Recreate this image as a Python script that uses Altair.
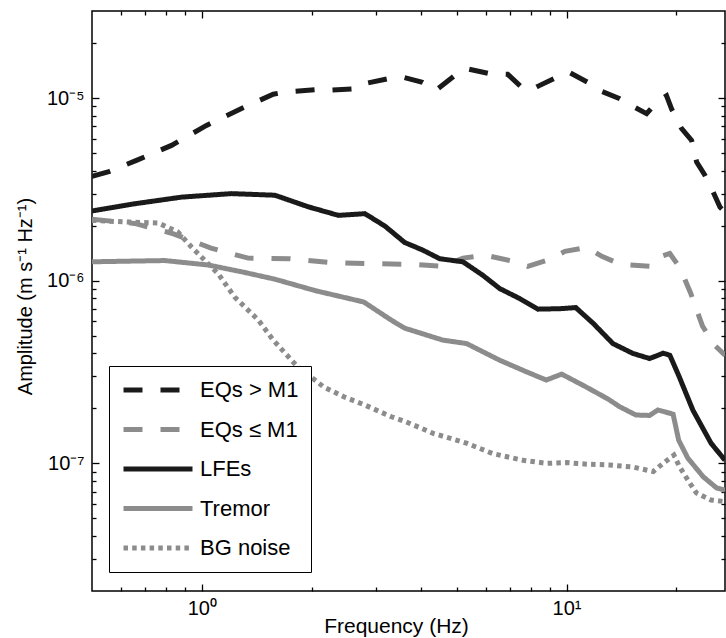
import altair as alt
import pandas as pd

FONT = "Liberation Sans"

series_names = ["EQs > M1", "EQs ≤ M1", "LFEs", "Tremor", "BG noise"]
series_colors = ["#1a1a1a", "#8c8c8c", "#1a1a1a", "#8c8c8c", "#8c8c8c"]

eq_big_freq = [0.5, 0.553, 0.662, 0.826, 1.03, 1.285, 1.57, 1.69, 2.04, 2.17, 2.62, 2.79, 3.32, 3.57,
               4.03, 4.40, 4.94, 5.32, 6.16, 6.90, 7.52, 8.02, 8.34, 9.39, 10.2, 11.44, 12.47, 14.0,
               15.07, 16.58, 17.66, 18.81, 19.4, 20.69, 22.03, 22.74, 23.96, 25.24, 26.35, 27.2]
eq_big_amp = [3.73e-6, 3.94e-6, 4.56e-6, 5.51e-6, 7.09e-6, 8.78e-6, 1.05e-5, 1.08e-5, 1.11e-5, 1.10e-5,
              1.125e-5, 1.20e-5, 1.29e-5, 1.30e-5, 1.22e-5, 1.11e-5, 1.33e-5, 1.45e-5, 1.36e-5, 1.35e-5,
              1.15e-5, 1.11e-5, 1.16e-5, 1.30e-5, 1.38e-5, 1.22e-5, 1.09e-5, 9.92e-6, 9.12e-6, 8.22e-6,
              9.50e-6, 1.03e-5, 8.75e-6, 6.80e-6, 5.87e-6, 4.47e-6, 3.78e-6, 3.06e-6, 2.53e-6, 2.37e-6]

eq_small_freq = [0.5, 0.654, 0.826, 1.06, 1.34, 1.74, 2.24, 2.89, 3.77, 4.58, 5.20, 6.00, 7.36, 7.83,
                 8.99, 9.9, 11.4, 12.5, 14.1, 16.9, 17.8, 19.2, 20.5, 21.9, 23.6, 25.5, 27.2]
eq_small_amp = [2.17e-6, 2.06e-6, 1.82e-6, 1.51e-6, 1.33e-6, 1.32e-6, 1.26e-6, 1.24e-6, 1.23e-6, 1.20e-6,
                1.33e-6, 1.38e-6, 1.26e-6, 1.20e-6, 1.31e-6, 1.45e-6, 1.52e-6, 1.36e-6, 1.23e-6, 1.20e-6,
                1.34e-6, 1.41e-6, 1.17e-6, 8.55e-7, 5.64e-7, 4.43e-7, 3.91e-7]

lfe_freq = [0.5, 0.655, 0.880, 1.206, 1.586, 1.959, 2.37, 2.80, 3.18, 3.60, 4.04, 4.49, 5.20, 5.90,
            6.56, 7.43, 8.35, 9.6, 10.6, 11.85, 13.4, 15.2, 16.9, 18.4, 19.2, 20.4, 22.2, 24.9, 27.2]
lfe_amp = [2.41e-6, 2.64e-6, 2.87e-6, 3.00e-6, 2.94e-6, 2.54e-6, 2.28e-6, 2.33e-6, 1.99e-6, 1.62e-6,
           1.47e-6, 1.32e-6, 1.27e-6, 1.07e-6, 9.06e-7, 8.0e-7, 6.99e-7, 7.03e-7, 7.13e-7, 5.83e-7,
           4.53e-7, 4.0e-7, 3.75e-7, 4.01e-7, 3.91e-7, 2.96e-7, 1.96e-7, 1.29e-7, 1.04e-7]

tremor_freq = [0.5, 0.792, 1.04, 1.285, 1.586, 2.05, 2.78, 3.31, 3.60, 4.58, 5.32, 6.56, 7.77, 8.8,
               9.7, 11.2, 13.0, 14.0, 15.5, 16.9, 17.8, 19.6, 20.3, 21.5, 23.7, 25.8, 27.2]
tremor_amp = [1.27e-6, 1.29e-6, 1.22e-6, 1.12e-6, 1.02e-6, 8.82e-7, 7.65e-7, 6.08e-7, 5.50e-7, 4.73e-7,
              4.53e-7, 3.67e-7, 3.17e-7, 2.86e-7, 3.08e-7, 2.65e-7, 2.25e-7, 2.04e-7, 1.84e-7, 1.83e-7,
              1.96e-7, 1.86e-7, 1.34e-7, 1.07e-7, 8.45e-8, 7.33e-8, 7.14e-8]

bg_freq = [0.5, 0.615, 0.76, 0.86, 0.937, 1.11, 1.23, 1.34, 1.43, 1.57, 1.83, 2.16, 2.46, 2.81, 3.31,
           3.60, 4.31, 5.32, 6.28, 7.60, 8.83, 10.0, 11.36, 13.1, 15.2, 17.3, 18.4, 19.7, 20.4, 21.8,
           22.7, 24.9, 27.2]
bg_amp = [2.14e-6, 2.10e-6, 2.07e-6, 1.85e-6, 1.53e-6, 1.09e-6, 8.15e-7, 6.90e-7, 6.08e-7, 4.73e-7,
          3.38e-7, 2.62e-7, 2.31e-7, 2.08e-7, 1.80e-7, 1.70e-7, 1.46e-7, 1.29e-7, 1.13e-7, 1.04e-7,
          1.00e-7, 1.01e-7, 9.9e-8, 9.8e-8, 9.55e-8, 9.02e-8, 1.00e-7, 1.11e-7, 9.6e-8, 7.78e-8,
          6.89e-8, 6.30e-8, 6.17e-8]

x_major = [1, 10]
x_major_labels = ["10⁰", "10¹"]
x_minor = [0.6, 0.7, 0.8, 0.9, 2, 3, 4, 5, 6, 7, 8, 9, 20]
y_major = [1e-7, 1e-6, 1e-5]
y_major_labels = ["10⁻⁷", "10⁻⁶", "10⁻⁵"]
y_minor = [float(f"{k}e{e}") for e in (-8, -7, -6, -5) for k in range(2, 10)]
y_minor = [v for v in y_minor if 2.5e-8 < v < 2.9e-5 and v not in y_major]

# draw gray series first, black on top
draw_order = [("BG noise", bg_freq, bg_amp), ("Tremor", tremor_freq, tremor_amp),
              ("EQs ≤ M1", eq_small_freq, eq_small_amp), ("LFEs", lfe_freq, lfe_amp),
              ("EQs > M1", eq_big_freq, eq_big_amp)]
rows = []
for name, fs, amps in draw_order:
    for f, a in zip(fs, amps):
        rows.append({"series": name, "freq": f, "amp": a})
df = pd.DataFrame(rows)

W, H = 633, 580
xscale = alt.Scale(type="log", domain=[0.5, 27.2], nice=False)
yscale = alt.Scale(type="log", domain=[2e-8, 3e-5], nice=False)


def label_expr(values, labels):
    expr = "''"
    for v, l in zip(reversed(values), reversed(labels)):
        expr = f"datum.value == {v!r} ? '{l}' : ({expr})"
    return expr


legend = alt.Legend(
    title=None, orient="none", legendX=17, legendY=355,
    symbolType="stroke", symbolSize=4761, symbolStrokeWidth=5,
    labelFont=FONT, labelFontSize=22, labelColor="black", labelLimit=0,
    labelExpr="datum.label + '\u00a0\u00a0'",
    clipHeight=24, padding=12, rowPadding=15.5, labelOffset=5,
    strokeColor="black", fillColor="white",
)

dash_range = [[19, 18], [19, 18], [1, 0], [1, 0], [4.5, 4.2]]

lines = alt.Chart(df).mark_line(strokeWidth=5, clip=True).encode(
    x=alt.X("freq:Q", scale=xscale, axis=alt.Axis(
        values=x_major, labelExpr=label_expr(x_major, x_major_labels), ticks=False, domain=False,
        grid=False, title="Frequency (Hz)", titleFont=FONT, titleFontSize=21, titleFontWeight="normal",
        titleColor="black", labelFont=FONT, labelFontSize=20, labelColor="black", labelPadding=7,
        titleX=304, titleY=41, titleBaseline="alphabetic", titleAlign="center")),
    y=alt.Y("amp:Q", scale=yscale, axis=alt.Axis(
        values=y_major, labelExpr=label_expr(y_major, y_major_labels), ticks=False, domain=False,
        grid=False, title="Amplitude (m s⁻¹ Hz⁻¹)", titleFont=FONT, titleFontSize=20,
        titleFontWeight="normal", titleColor="black", labelFont=FONT, labelFontSize=20,
        labelColor="black", labelPadding=8, titleX=-61, titleY=285, titleAngle=270,
        titleBaseline="alphabetic", titleAlign="center")),
    color=alt.Color("series:N", scale=alt.Scale(domain=series_names, range=series_colors), legend=legend),
    strokeDash=alt.StrokeDash("series:N", scale=alt.Scale(domain=series_names, range=dash_range), legend=legend),
)

x_ticks = x_major + x_minor
y_ticks = y_major + y_minor
x_cond = {"condition": {"test": "datum.value == 1 || datum.value == 10", "value": 7}, "value": 4}
y_cond = {"condition": {"test": "datum.value == 1e-7 || datum.value == 0.000001 || datum.value == 0.00001",
                        "value": 7}, "value": 4}

tick_style = dict(labels=False, domain=False, grid=False, title=None, tickColor="black", tickWidth=1.3)

ticks_a = alt.Chart(df).mark_line(opacity=0).encode(
    x=alt.X("freq:Q", scale=xscale, axis=alt.Axis(orient="top", offset=-H, values=x_ticks,
                                                   tickSize=x_cond, **tick_style)),
    y=alt.Y("amp:Q", scale=yscale, axis=alt.Axis(orient="right", offset=-W, values=y_ticks,
                                                  tickSize=y_cond, **tick_style)),
)
ticks_b = alt.Chart(df).mark_line(opacity=0).encode(
    x=alt.X("freq:Q", scale=xscale, axis=alt.Axis(orient="bottom", offset=-H, values=x_ticks,
                                                   tickSize=x_cond, **tick_style)),
    y=alt.Y("amp:Q", scale=yscale, axis=alt.Axis(orient="left", offset=-W, values=y_ticks,
                                                  tickSize=y_cond, **tick_style)),
)

chart = alt.layer(lines, ticks_a, ticks_b).resolve_axis(
    x="independent", y="independent"
).properties(
    width=W, height=H,
    autosize=alt.AutoSizeParams(type="none"),
    padding={"left": 92, "top": 11, "right": 1, "bottom": 47},
    background="white",
).configure_view(stroke="black", strokeWidth=1.5)

chart.save("out.html", embed_options={"renderer": "svg", "actions": False})
